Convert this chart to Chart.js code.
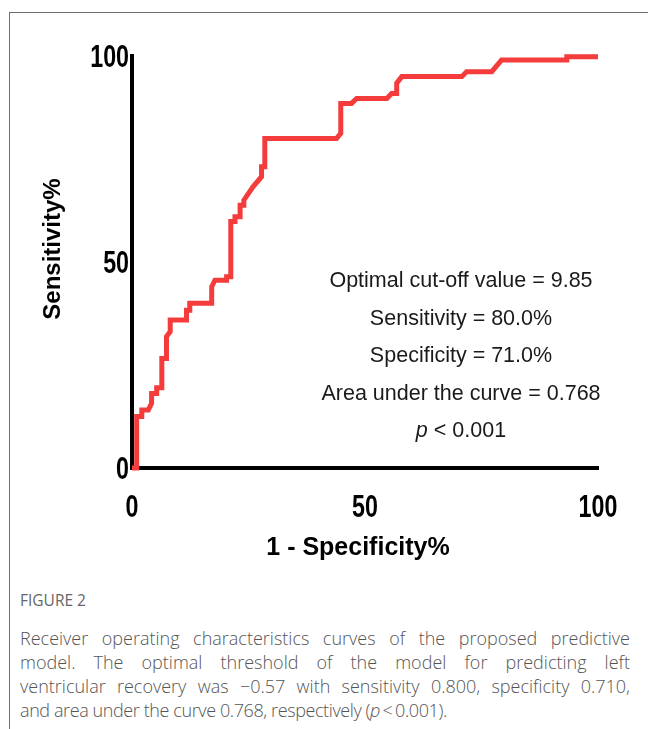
<!DOCTYPE html>
<html>
<head>
<meta charset="utf-8">
<script src="https://cdn.jsdelivr.net/npm/chart.js@4.4.1/dist/chart.umd.min.js"></script>
<style>
  html, body { margin: 0; padding: 0; background: #fff; }
  body { width: 648px; height: 729px; position: relative; overflow: hidden; }
  #frame { position: absolute; left: 9px; top: 12px; right: -2px; bottom: -2px;
           border-left: 1px solid #6e6e6e; border-top: 1px solid #6e6e6e; }
  #rocChart { position: absolute; left: 0; top: 0; }
  #caption { position: absolute; left: 20px; top: 588px; width: 610px;
             font-family: 'Open Sans', sans-serif; color: #555; }
  .fig-label { font-size: 15.5px; line-height: 24px; color: #666; margin-bottom: 14px; }
  .fig-line { font-size: 18px; line-height: 24px; font-weight: 300; white-space: nowrap;
              text-align: justify; text-align-last: justify; }
  .fig-line.last { text-align-last: left; letter-spacing: -0.4px; }
</style>
</head>
<body>
<div id="frame"></div>
<canvas id="rocChart" width="648" height="580"></canvas>
<div id="caption">
  <div class="fig-label">FIGURE 2</div>
  <div class="fig-line">Receiver operating characteristics curves of the proposed predictive</div>
  <div class="fig-line">model. The optimal threshold of the model for predicting left</div>
  <div class="fig-line">ventricular recovery was &minus;0.57 with sensitivity 0.800, specificity 0.710,</div>
  <div class="fig-line last">and area under the curve 0.768, respectively (<i>p</i>&thinsp;&lt;&thinsp;0.001).</div>
</div>
<script>
  // ROC curve vertices (1 - specificity %, sensitivity %)
  const fprValues = [0, 1.0, 1.0, 2.1, 2.1, 3.5, 4.2, 4.2, 5.3, 5.3, 6.4, 6.4, 7.4, 7.4, 8.2, 8.2,
    11.7, 11.7, 12.4, 12.4, 17.1, 17.1, 17.8, 20.3, 20.3, 21.2, 21.2, 22.1, 22.1, 23.2, 23.2,
    24.0, 24.0, 26.0, 27.8, 27.8, 28.5, 28.5, 43.9, 44.8, 44.8, 47.1, 48.2, 54.7, 55.7, 56.8,
    56.8, 57.9, 70.8, 71.8, 77.2, 79.3, 93.3, 93.3, 100];
  const tprValues = [0, 0, 12.5, 12.5, 14.1, 14.1, 15.7, 18.1, 18.1, 19.5, 19.5, 26.6, 26.6, 31.9, 33.1, 35.9,
    35.9, 38.3, 38.3, 40.0, 40.0, 44.0, 45.6, 45.6, 46.4, 46.4, 59.8, 59.8, 61.0, 61.0, 63.8,
    63.8, 65.0, 68.3, 70.7, 73.1, 73.1, 80.0, 80.0, 81.2, 88.5, 88.5, 89.7, 89.7, 90.9, 90.9,
    93.4, 95.0, 95.0, 96.2, 96.2, 99.0, 99.0, 99.8, 99.8];
  const axisTicks = [0, 50, 100];

  const xTitle = '1 - Specificity%';
  const yTitle = 'Sensitivity%';
  const statLines = [
    'Optimal cut-off value = 9.85',
    'Sensitivity = 80.0%',
    'Specificity = 71.0%',
    'Area under the curve = 0.768'
  ];
  const pLabel = 'p';
  const pValue = ' < 0.001';

  const sans = "'Liberation Sans', Arial, sans-serif";

  // tick labels (condensed bold), axis titles and the statistics block
  const figureText = {
    id: 'figureText',
    afterDraw(chart) {
      const { ctx, chartArea: a, scales } = chart;
      ctx.save();
      ctx.fillStyle = '#000';
      ctx.textBaseline = 'alphabetic';
      ctx.font = 'bold 31px ' + sans;

      // condensed tick numbers placed by the chart's own scales
      ctx.textAlign = 'center';
      scales.x.ticks.forEach(t => {
        ctx.save();
        ctx.translate(scales.x.getPixelForValue(t.value), a.bottom + 49);
        ctx.scale(0.75, 1);
        ctx.fillText(String(t.value), 0, 0);
        ctx.restore();
      });
      ctx.textAlign = 'right';
      scales.y.ticks.forEach(t => {
        ctx.save();
        ctx.translate(a.left - 3, scales.y.getPixelForValue(t.value) + 10.5);
        ctx.scale(0.75, 1);
        ctx.fillText(String(t.value), 0, 0);
        ctx.restore();
      });

      ctx.textAlign = 'center';
      ctx.textBaseline = 'middle';
      ctx.font = 'bold 24px ' + sans;
      ctx.save();
      ctx.translate(a.left - 79, (a.top + a.bottom) / 2 - 13);
      ctx.rotate(-Math.PI / 2);
      ctx.fillText(yTitle, 0, 0);
      ctx.restore();
      ctx.font = 'bold 25px ' + sans;
      ctx.fillText(xTitle, (a.left + a.right) / 2 - 7, a.bottom + 80);

      const cx = a.left + 0.706 * (a.right - a.left);
      ctx.fillStyle = '#1a1a1a';
      ctx.textBaseline = 'alphabetic';
      ctx.font = '21.5px ' + sans;
      statLines.forEach((t, i) => ctx.fillText(t, cx, a.top + 231 + i * 37.6));

      const py = a.top + 231 + statLines.length * 37.6;
      ctx.font = 'italic 21.5px ' + sans;
      const wp = ctx.measureText(pLabel).width;
      ctx.font = '21.5px ' + sans;
      const wv = ctx.measureText(pValue).width;
      const x0 = cx - (wp + wv) / 2;
      ctx.textAlign = 'left';
      ctx.font = 'italic 21.5px ' + sans;
      ctx.fillText(pLabel, x0, py);
      ctx.font = '21.5px ' + sans;
      ctx.fillText(pValue, x0 + wp, py);
      ctx.restore();
    }
  };

  const ctx = document.getElementById('rocChart').getContext('2d');
  const chart = new Chart(ctx, {
    type: 'line',
    data: {
      datasets: [{
        label: 'ROC',
        data: fprValues.map((x, i) => ({ x, y: tprValues[i] })),
        borderColor: '#f43c3c',
        borderWidth: 5,
        borderJoinStyle: 'miter',
        pointRadius: 0,
        tension: 0,
        fill: false,
        clip: false
      }]
    },
    options: {
      responsive: false,
      animation: false,
      devicePixelRatio: 1,
      layout: { padding: { top: 56, right: 50, left: 0, bottom: 0 } },
      plugins: {
        legend: { display: false },
        tooltip: { enabled: false }
      },
      scales: {
        x: {
          type: 'linear',
          min: 0,
          max: 100,
          grid: { display: false },
          border: { display: true, color: '#000', width: 4 },
          afterBuildTicks: s => { s.ticks = axisTicks.map(v => ({ value: v })); },
          ticks: { display: false },
          afterFit: s => { s.height = 112; }
        },
        y: {
          type: 'linear',
          min: 0,
          max: 100,
          grid: { display: false },
          border: { display: true, color: '#000', width: 4 },
          afterBuildTicks: s => { s.ticks = axisTicks.map(v => ({ value: v })); },
          ticks: { display: false },
          afterFit: s => { s.width = 132; }
        }
      }
    },
    plugins: [figureText]
  });
</script>
</body>
</html>
